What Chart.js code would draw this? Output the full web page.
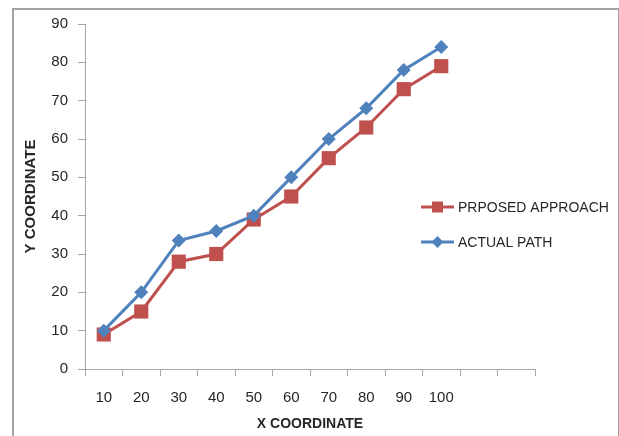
<!DOCTYPE html>
<html>
<head>
<meta charset="utf-8">
<script src="https://cdn.jsdelivr.net/npm/chart.js@4/dist/chart.umd.min.js"></script>
<style>
  html, body { margin: 0; padding: 0; background: #fff; }
  #wrap { position: relative; width: 619px; height: 436px; overflow: hidden; }
  #frame { position: absolute; left: 12px; top: 8px; width: 604px; height: 440px; border: 2px solid #a3a3a3; }
  #chart { position: absolute; left: 0; top: 0; }
</style>
</head>
<body>
<div id="wrap">
  <div id="frame"></div>
  <canvas id="chart" width="619" height="436"></canvas>
</div>
<script>
// x categories (two empty slots at the end, like the original axis)
const xLabels = ['10', '20', '30', '40', '50', '60', '70', '80', '90', '100', '', ''];
const proposedApproach = [9, 15, 28, 30, 39, 45, 55, 63, 73, 79];
const actualPath = [10, 20, 33.5, 36, 40, 50, 60, 68, 78, 84];
const seriesNames = ['PRPOSED APPROACH', 'ACTUAL PATH'];

const RED = '#C0504D';
const BLUE = '#4F81BD';
const AXIS = '#a6a6a6';
const TEXT = '#262626';
const FONT = "'Liberation Sans', Arial, sans-serif";

// legend drawn inside the plot, to the right of the lines
const sideLegend = {
  id: 'sideLegend',
  afterDraw(chart, args, opts) {
    const ctx = chart.ctx;
    chart.data.datasets.forEach((ds, i) => {
      const y = opts.top + i * opts.gap;
      const cx = opts.left + opts.lineLen / 2;
      ctx.save();
      ctx.strokeStyle = ds.borderColor;
      ctx.lineWidth = ds.borderWidth;
      ctx.beginPath();
      ctx.moveTo(opts.left, y);
      ctx.lineTo(opts.left + opts.lineLen, y);
      ctx.stroke();
      ctx.fillStyle = ds.pointBackgroundColor;
      ctx.beginPath();
      if (ds.pointStyle === 'rect') {
        const s = 5.5;
        ctx.rect(cx - s, y - s, s * 2, s * 2);
      } else {
        const r = 6;
        ctx.moveTo(cx, y - r);
        ctx.lineTo(cx + r, y);
        ctx.lineTo(cx, y + r);
        ctx.lineTo(cx - r, y);
        ctx.closePath();
      }
      ctx.fill();
      ctx.fillStyle = TEXT;
      ctx.font = '14px ' + FONT;
      ctx.textAlign = 'left';
      ctx.textBaseline = 'middle';
      ctx.fillText(ds.label, opts.left + opts.lineLen + 4, y + 1);
      ctx.restore();
    });
  }
};

new Chart(document.getElementById('chart'), {
  type: 'line',
  data: {
    labels: xLabels,
    datasets: [
      {
        label: seriesNames[0],
        data: proposedApproach,
        borderColor: RED,
        backgroundColor: RED,
        pointBackgroundColor: RED,
        pointBorderColor: RED,
        borderWidth: 3,
        pointStyle: 'rect',
        pointRadius: 10,
        pointBorderWidth: 0,
        tension: 0,
        order: 2
      },
      {
        label: seriesNames[1],
        data: actualPath,
        borderColor: BLUE,
        backgroundColor: BLUE,
        pointBackgroundColor: BLUE,
        pointBorderColor: BLUE,
        borderWidth: 3,
        pointStyle: 'rectRot',
        pointRadius: 7,
        pointBorderWidth: 0,
        tension: 0,
        order: 1
      }
    ]
  },
  options: {
    responsive: false,
    animation: false,
    layout: { padding: { left: 14, right: 84, top: 24, bottom: 0 } },
    plugins: {
      legend: { display: false },
      tooltip: { enabled: false },
      sideLegend: { left: 421, top: 207, gap: 35, lineLen: 33 }
    },
    scales: {
      x: {
        type: 'category',
        offset: true,
        grid: { offset: true, drawOnChartArea: false, drawTicks: true, tickLength: 7, color: AXIS },
        border: { color: AXIS, width: 1 },
        ticks: { color: TEXT, font: { family: FONT, size: 15 }, padding: 13, autoSkip: false, maxRotation: 0 },
        title: { display: true, text: 'X COORDINATE', color: TEXT, font: { family: FONT, size: 14, weight: 'bold' }, padding: { top: 0, bottom: 3 } },
        afterFit(scale) { scale.height = 67; }
      },
      y: {
        min: 0,
        max: 90,
        ticks: { stepSize: 10, color: TEXT, font: { family: FONT, size: 15 }, padding: 10 },
        grid: { drawOnChartArea: false, drawTicks: true, tickLength: 7, color: AXIS },
        border: { color: AXIS, width: 1 },
        title: { display: true, text: 'Y COORDINATE', color: TEXT, font: { family: FONT, size: 15, weight: 'bold' }, padding: { top: 8, bottom: 0 } },
        afterFit(scale) { scale.width = 71; }
      }
    }
  },
  plugins: [sideLegend]
});
</script>
</body>
</html>
